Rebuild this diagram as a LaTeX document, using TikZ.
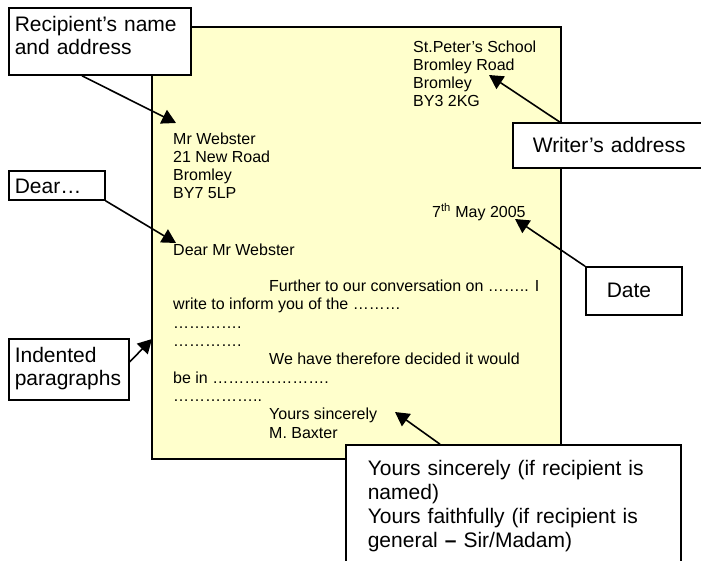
\documentclass[tikz,border=0pt]{standalone}
\usepackage{fontspec}
\setmainfont{Liberation Sans}
\usepackage{xcolor}
\usetikzlibrary{arrows.meta}
\definecolor{paper}{HTML}{FFFFCC}

\begin{document}
\begin{tikzpicture}[x=1pt,y=-1pt,
  lettertext/.style={anchor=base west,inner sep=0pt,align=left,font=\fontsize{16}{18.3}\selectfont},
  callout/.style={draw,line width=1.6pt,fill=white,anchor=base west,align=left,
    inner xsep=6pt,inner ysep=0pt,font=\fontsize{21}{23}\selectfont},
  pointer/.style={-{Triangle[length=14pt,width=15pt]},line width=1.6pt}]
\useasboundingbox (0,0) rectangle (701,561);
\clip (0,0) rectangle (701,561);

% the letter itself (text blocks sit on the baseline of their last line)
\draw[fill=paper,line width=1.6pt] (152,27) rectangle (561,459);

\node[lettertext] (sender)    at (413,107) {St.Peter’s School\\ Bromley Road\\ Bromley\\ BY3 2KG};
\node[lettertext] (addressee) at (173,199) {Mr Webster\\21 New Road\\Bromley\\BY7 5LP};
\node[lettertext] (date)      at (432,218) {7\textsuperscript{th} May 2005};
\node[lettertext] (greeting)  at (173,255) {Dear Mr Webster};
\node[lettertext] (body)      at (173,438) {\hspace*{96pt}Further to our conversation on …….. I\\
  write to inform you of the ………\\
  ………….\\
  ………….\\
  \hspace*{96pt}We have therefore decided it would\\
  be in {……}{……}{……}{…}.\\
  ……………..\\
  \hspace*{96pt}Yours sincerely\\
  \hspace*{96pt}M. Baxter};

% the callouts (fixed text height, so they sit on their first line)
\node[callout,text width=170,text height=24,text depth=43] (recip)  at (8,32)    {Recipient’s name\\and address};
\node[callout,text width=84,text height=23,text depth=6]   (dear)   at (8,194)   {Dear…};
\node[callout,text width=108,text height=23,text depth=38] (indent) at (8,362)   {Indented\\paragraphs};
\node[callout,inner xsep=20pt,text width=170,text height=30,text depth=15] (writer) at (512,153) {Writer’s address};
\node[callout,inner xsep=21pt,text width=54,text height=30,text depth=18]  (datebox) at (585,297) {Date};
\node[callout,inner xsep=22pt,text width=291,text height=30,text depth=110,font=\fontsize{21}{24.3}\selectfont] (yours) at (345,475)
  {Yours sincerely (if recipient is\\named)\\Yours faithfully (if recipient is\\general \textbf{–} Sir/Madam)};

\coordinate (recipTip)  at (176,123);
\coordinate (dearTip)   at (176,243);
\coordinate (indentTip) at (152,339);
\coordinate (writerTip) at (489,75);
\coordinate (dateTip)   at (515,219);
\coordinate (yoursTip)  at (395,412);

\path[pointer]
  ([xshift=74pt]recip.south west)  edge (recipTip)
  (dear.south east)                edge (dearTip)
  (indent.base east)               edge (indentTip)
  ([xshift=48pt]writer.north west) edge (writerTip)
  (datebox.north west)             edge (dateTip)
  ([xshift=95pt]yours.north west)  edge (yoursTip);
\end{tikzpicture}
\end{document}
